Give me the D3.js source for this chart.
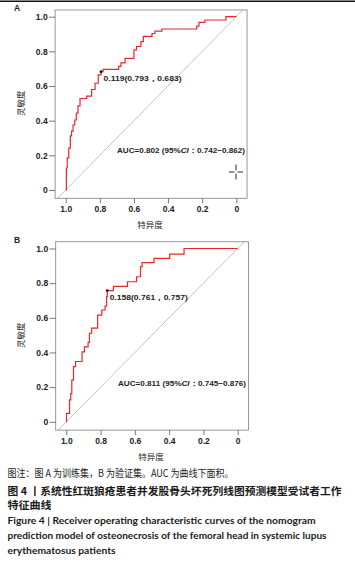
<!DOCTYPE html>
<html>
<head>
<meta charset="utf-8">
<script src="https://cdn.jsdelivr.net/npm/d3@7"></script>
<style>
  body { margin: 0; background: #fff; }
  svg { display: block; }
</style>
</head>
<body>
<div id="chart"></div>
<script>
// tick values shared by both panels
const xTicks = [1.0, 0.8, 0.6, 0.4, 0.2, 0];
const yTicks = [0, 0.2, 0.4, 0.6, 0.8, 1.0];

// Panel A (training set) ROC: specificity / sensitivity at top of each riser
const specA = [1.0, 0.996, 0.991, 0.982, 0.973, 0.966, 0.957, 0.947, 0.938, 0.928, 0.916, 0.877, 0.848, 0.828, 0.809, 0.793, 0.781, 0.69, 0.676, 0.652, 0.600, 0.585, 0.559, 0.545, 0.494, 0.477, 0.436, 0.232, 0.219, 0.184, 0.061, 0];
const sensA = [0, 0.127, 0.185, 0.242, 0.312, 0.340, 0.375, 0.404, 0.444, 0.485, 0.528, 0.542, 0.580, 0.616, 0.664, 0.683, 0.696, 0.713, 0.733, 0.760, 0.808, 0.828, 0.856, 0.886, 0.903, 0.917, 0.929, 0.946, 0.967, 0.981, 1.0, 1.0];

// Panel B (validation set)
const specB = [1.0, 0.999, 0.981, 0.974, 0.968, 0.958, 0.946, 0.908, 0.894, 0.873, 0.865, 0.852, 0.817, 0.793, 0.774, 0.765, 0.761, 0.725, 0.643, 0.590, 0.567, 0.558, 0.488, 0.397, 0.313, 0];
const sensB = [0, 0.049, 0.126, 0.163, 0.241, 0.318, 0.348, 0.403, 0.432, 0.458, 0.511, 0.540, 0.616, 0.645, 0.668, 0.722, 0.757, 0.781, 0.808, 0.837, 0.895, 0.919, 0.943, 0.968, 1.0, 1.0];

// best cut-off: threshold, specificity, sensitivity
const cutA = [0.119, 0.793, 0.683];
const cutB = [0.158, 0.761, 0.757];

// AUC and 95% CI
const aucA = [0.802, 0.742, 0.862];
const aucB = [0.811, 0.745, 0.876];

const W = 355, H = 569;
const svg = d3.select("#chart").append("svg")
  .attr("width", W).attr("height", H);

// thin rule across the top of the page
svg.append("line")
  .attr("x1", 0).attr("x2", W).attr("y1", 1.2).attr("y2", 1.2)
  .attr("stroke", "#111").attr("stroke-width", 1.6);

const tickFont = "'Liberation Sans', Arial, sans-serif";
const cjkFont = "'Noto Sans CJK SC', sans-serif";

function drawPanel(opt) {
  const x = d3.scaleLinear().domain([1, 0]).range(opt.xr);
  const y = d3.scaleLinear().domain([0, 1]).range(opt.yr);
  const g = svg.append("g");

  const fx0 = x(1.062), fx1 = x(-0.063);
  const fy0 = y(1.039), fy1 = y(-0.048);

  // panel letter
  g.append("text").attr("x", 14).attr("y", fy0 + 1.5)
    .attr("font-family", tickFont).attr("font-weight", "bold")
    .attr("font-size", 8.5).attr("fill", "#222").text(opt.letter);

  // reference diagonal, clipped to frame
  const clipId = "clip" + opt.letter;
  g.append("clipPath").attr("id", clipId).append("rect")
    .attr("x", fx0).attr("y", fy0).attr("width", fx1 - fx0).attr("height", fy1 - fy0);
  g.append("line")
    .attr("clip-path", `url(#${clipId})`)
    .attr("x1", x(1.1)).attr("y1", y(-0.1))
    .attr("x2", x(-0.1)).attr("y2", y(1.1))
    .attr("stroke", "#b4b4b4").attr("stroke-width", 0.8);

  // ROC curve
  const pts = opt.spec.map((s, i) => ({ spec: s, sens: opt.sens[i] }));
  const line = d3.line()
    .x(d => x(d.spec)).y(d => y(d.sens))
    .curve(d3.curveStepAfter);
  g.append("path").datum(pts)
    .attr("d", line)
    .attr("fill", "none").attr("stroke", "#e8262b").attr("stroke-width", 1.2);

  // frame
  g.append("rect")
    .attr("x", fx0).attr("y", fy0).attr("width", fx1 - fx0).attr("height", fy1 - fy0)
    .attr("fill", "none").attr("stroke", "#8c8c8c").attr("stroke-width", 0.9);

  // axes
  const fmt = d => d === 0 ? "0" : d3.format(".1f")(d);
  const ax = g.append("g").attr("transform", `translate(${fx0},0)`)
    .call(d3.axisLeft(y).tickValues(yTicks).tickFormat(fmt).tickSize(6).tickPadding(1.5));
  const bx = g.append("g").attr("transform", `translate(0,${fy1})`)
    .call(d3.axisBottom(x).tickValues(xTicks).tickFormat(fmt).tickSize(5).tickPadding(3));
  [ax, bx].forEach(a => {
    a.select(".domain").remove();
    a.selectAll(".tick line").attr("stroke", "#555").attr("stroke-width", 0.8);
    a.selectAll(".tick text")
      .attr("font-family", tickFont).attr("font-weight", "bold")
      .attr("font-size", 8.5).attr("fill", "#222");
  });

  // axis titles
  g.append("text")
    .attr("transform", `translate(24,${(opt.yr[0] + opt.yr[1]) / 2}) rotate(-90)`)
    .attr("text-anchor", "middle")
    .attr("font-family", cjkFont).attr("font-size", 8.5).attr("fill", "#222")
    .text("灵敏度");
  g.append("text")
    .attr("x", (opt.xr[0] + opt.xr[1]) / 2 - 1).attr("y", fy1 + 29.5)
    .attr("text-anchor", "middle")
    .attr("font-family", cjkFont).attr("font-size", 8.5).attr("fill", "#222")
    .text("特异度");

  // cut-off point and label
  g.append("circle")
    .attr("cx", x(opt.cut[1])).attr("cy", y(opt.cut[2])).attr("r", 1.4)
    .attr("fill", "#111");
  g.append("text")
    .attr("x", x(opt.cut[1]) + 2.5).attr("y", y(opt.cut[2]) + 9)
    .attr("font-family", tickFont).attr("font-weight", "bold")
    .attr("font-size", 8).attr("fill", "#222")
    .attr("textLength", 78).attr("lengthAdjust", "spacingAndGlyphs")
    .text(`${opt.cut[0].toFixed(3)}(${opt.cut[1].toFixed(3)}，${opt.cut[2].toFixed(3)})`);

  // AUC label
  const t = g.append("text")
    .attr("x", opt.aucX).attr("y", y(opt.aucY))
    .attr("font-family", tickFont).attr("font-weight", "bold")
    .attr("font-size", 7.8).attr("fill", "#222")
    .attr("textLength", 128).attr("lengthAdjust", "spacingAndGlyphs");
  t.append("tspan").text(`AUC=${opt.auc[0].toFixed(3)} (95%`);
  t.append("tspan").attr("font-style", "italic").text("CI");
  t.append("tspan").text(`：${opt.auc[1].toFixed(3)}−${opt.auc[2].toFixed(3)})`);

  return { x, y, g };
}

const pA = drawPanel({
  letter: "A", xr: [65.7, 236.3], yr: [190, 16.7],
  spec: specA, sens: sensA, cut: cutA, auc: aucA, aucX: 117, aucY: 0.213
});
drawPanel({
  letter: "B", xr: [66.3, 237.7], yr: [421.8, 248.5],
  spec: specB, sens: sensB, cut: cutB, auc: aucB, aucX: 118, aucY: 0.205
});

// small crosshair cursor left in panel A
const cx = 236, cy = 172;
pA.g.append("path")
  .attr("d", `M${cx - 7},${cy}H${cx - 1.5}M${cx + 1.5},${cy}H${cx + 7}M${cx},${cy - 7.5}V${cy - 1.5}M${cx},${cy + 1.5}V${cy + 7.5}`)
  .attr("stroke", "#111").attr("stroke-width", 0.9).attr("fill", "none");

// caption
const cap = [
  { t: "图注：图 A 为训练集，B 为验证集。AUC 为曲线下面积。", y: 477, w: 226, bold: false, cjk: true, size: 10 },
  { t: "图 4 丨系统性红斑狼疮患者并发股骨头坏死列线图预测模型受试者工作", y: 495, w: 334, bold: true, cjk: true, size: 10.5 },
  { t: "特征曲线", y: 508.5, w: 44, bold: true, cjk: true, size: 10.5 },
  { t: "Figure 4  |  Receiver operating characteristic curves of the nomogram", y: 523.5, w: 308, bold: true, cjk: false, size: 10 },
  { t: "prediction model of osteonecrosis of the femoral head in systemic lupus", y: 538.5, w: 319, bold: true, cjk: false, size: 10 },
  { t: "erythematosus patients", y: 553.5, w: 108, bold: true, cjk: false, size: 10 }
];
svg.selectAll("text.cap").data(cap).enter().append("text")
  .attr("class", "cap")
  .attr("x", 7.5).attr("y", d => d.y)
  .attr("font-family", d => d.cjk ? cjkFont : "Lato, 'Open Sans', sans-serif")
  .attr("font-weight", d => d.bold ? "bold" : "normal")
  .attr("font-size", d => d.size)
  .attr("fill", "#1a1a1a")
  .attr("textLength", d => d.w).attr("lengthAdjust", "spacingAndGlyphs")
  .text(d => d.t);
</script>
</body>
</html>
